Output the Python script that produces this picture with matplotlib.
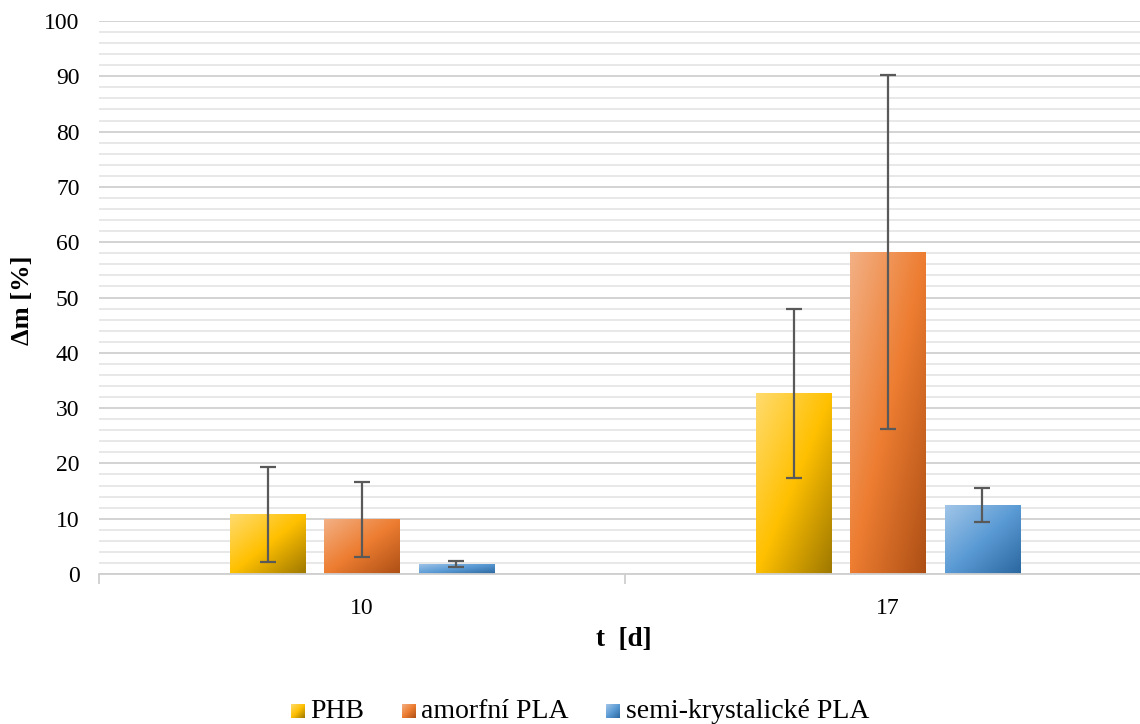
import numpy as np
import matplotlib.pyplot as plt
from matplotlib.colors import LinearSegmentedColormap
from matplotlib.patches import Rectangle
from matplotlib.legend_handler import HandlerBase
from matplotlib.image import BboxImage
from matplotlib.transforms import Bbox, TransformedBbox

plt.rcParams['font.family'] = ['Liberation Serif', 'DejaVu Serif']

days = ['10', '17']
series = ['PHB', 'amorfní PLA', 'semi-krystalické PLA']
phb = [10.8, 32.7]
phb_err = [8.6, 15.3]
amorf = [9.9, 58.2]
amorf_err = [6.8, 32.0]
semi = [1.85, 12.5]
semi_err = [0.55, 3.05]

values = [phb, amorf, semi]
errors = [phb_err, amorf_err, semi_err]
# light, mid, dark for the diagonal gradient
grads = [['#FFDB6E', '#FFC000', '#9E7800'],
         ['#F3B084', '#ED7D31', '#AD4F15'],
         ['#A2C6E8', '#5B9BD5', '#2B679F']]

fig = plt.figure(figsize=(11.4, 7.24), dpi=100)
ax = fig.add_axes([99/1140, 150/724, 1052/1140, 553/724])

x = np.arange(len(days))
w = 0.143
step = 0.179

# diagonal gradient image (top-left light -> bottom-right dark)
gy, gx = np.mgrid[0:1:100j, 0:1:100j]
diag = (gx + gy) / 2.0
cmaps = [LinearSegmentedColormap.from_list('g%d' % i, c) for i, c in enumerate(grads)]

for i, (vals, errs, cmap) in enumerate(zip(values, errors, cmaps)):
    pos = x + (i - 1) * step
    for xp, v, e in zip(pos, vals, errs):
        r = Rectangle((xp - w / 2, 0), w, v, facecolor='none', edgecolor='none')
        ax.add_patch(r)
        im = ax.imshow(diag, cmap=cmap, extent=(xp - w / 2, xp + w / 2, 0, v),
                       origin='upper', aspect='auto', zorder=2, interpolation='bilinear')
        im.set_clip_path(r)
    ax.errorbar(pos, vals, yerr=errs, fmt='none', ecolor='#595959',
                elinewidth=1.6, capsize=6, capthick=1.6, zorder=3)

ax.set_xlim(-0.5, 1.5)
ax.set_ylim(0, 100)
ax.set_yticks(np.arange(0, 101, 10))
ax.set_yticks(np.arange(0, 101, 2), minor=True)
ax.grid(axis='y', which='major', color='#D0D0D0', linewidth=1.3, zorder=0)
ax.grid(axis='y', which='minor', color='#E6E6E6', linewidth=1.3, zorder=0)
ax.set_axisbelow(True)

ax.set_xticks(x)
ax.set_xticklabels(days)
ax.set_xticks([-0.5, 0.5, 1.5], minor=True)
ax.tick_params(axis='x', which='major', length=0, pad=17, labelsize=17)
ax.tick_params(axis='x', which='minor', length=7, width=1.3, color='#CFCFCF')
ax.tick_params(axis='y', which='both', length=0, pad=14, labelsize=17)

for s in ['top', 'right', 'left']:
    ax.spines[s].set_visible(False)
ax.spines['bottom'].set_color('#CFCFCF')
ax.spines['bottom'].set_linewidth(1.3)

fig.text(23/1140, 1 - 300/724, 'Δm [%]', rotation=90, ha='center', va='center',
         fontsize=19, fontweight='bold')
fig.text(624/1140, 1 - 640/724, 't  [d]', ha='center', va='center',
         fontsize=19.5, fontweight='bold')


class GradHandler(HandlerBase):
    def __init__(self, cmap):
        super().__init__()
        self.cmap = cmap

    def create_artists(self, legend, orig_handle, xdescent, ydescent,
                       width, height, fontsize, trans):
        s = min(width, height)
        bb = Bbox.from_bounds(xdescent + width - s, ydescent + (height - s) / 2, s, s)
        img = BboxImage(TransformedBbox(bb, trans), cmap=self.cmap,
                        interpolation='bilinear', origin='upper')
        img.set_data(diag)
        return [img]


handles = []
hmap = {}
for name, cmap in zip(series, cmaps):
    h = Rectangle((0, 0), 1, 1, label=name)
    handles.append(h)
    hmap[h] = GradHandler(cmap)
fig.legend(handles=handles, handler_map=hmap, loc='center',
           bbox_to_anchor=(580/1140, 1 - 711/724),
           ncol=3, frameon=False, fontsize=20, handlelength=0.5, handleheight=0.5,
           handletextpad=0.2, columnspacing=1.35)

fig.savefig('out.png', dpi=100)
